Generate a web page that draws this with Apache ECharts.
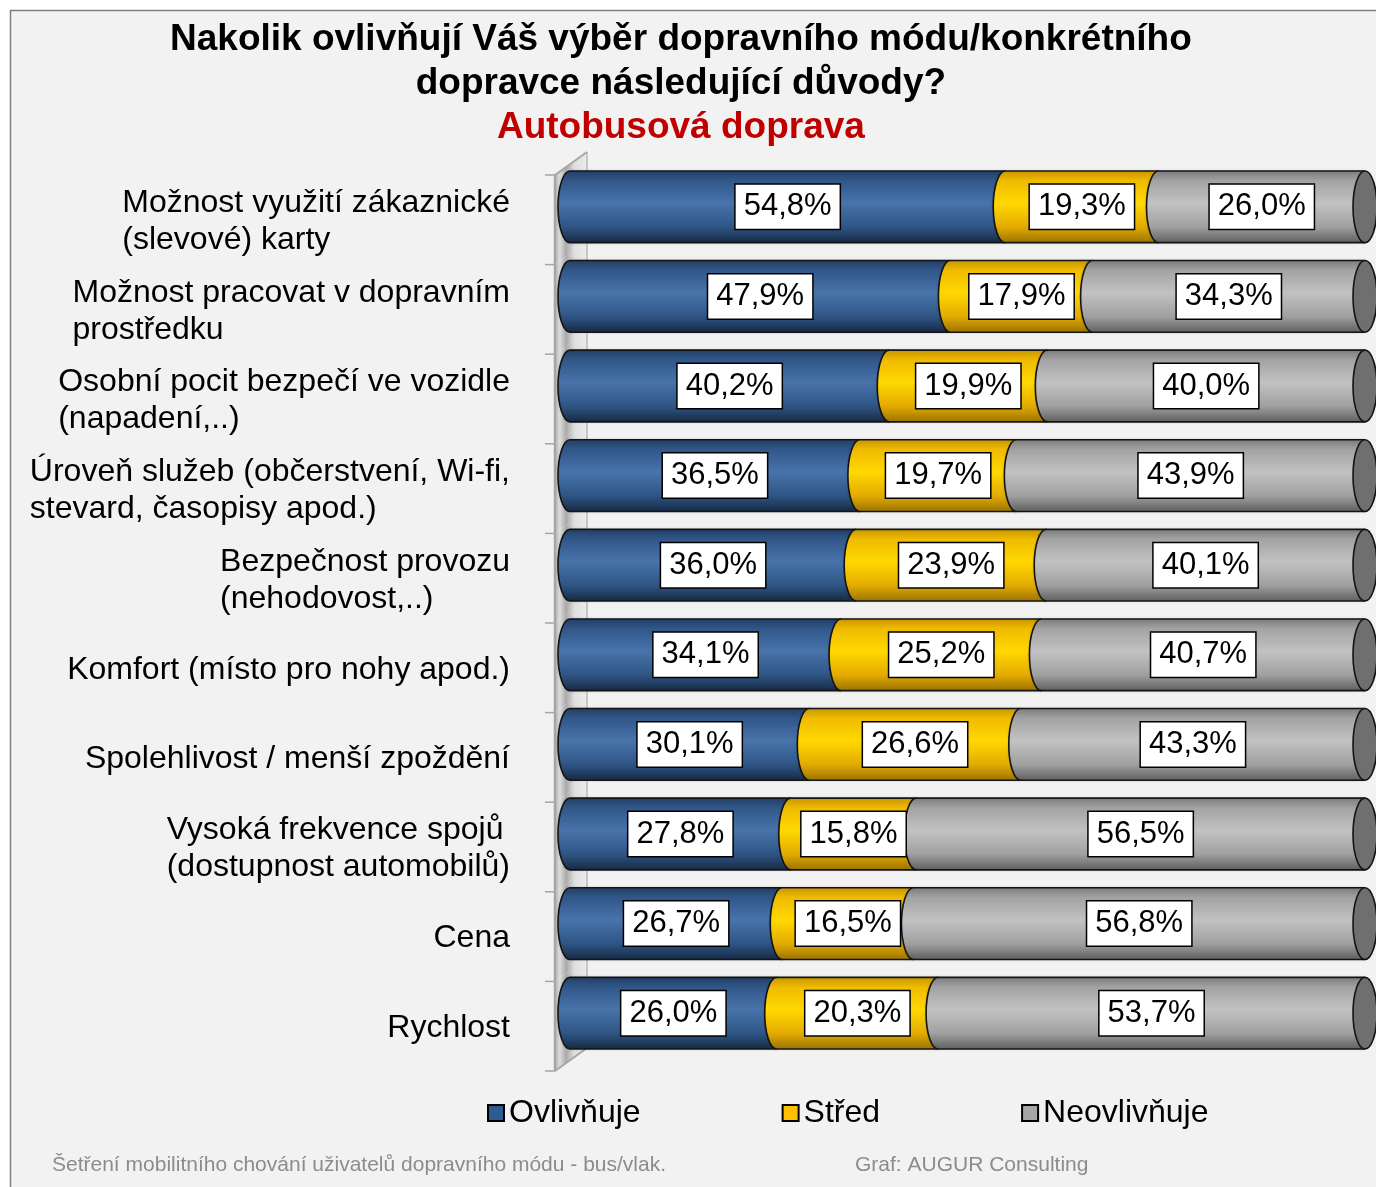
<!DOCTYPE html>
<html>
<head>
<meta charset="utf-8">
<title>Autobusová doprava</title>
<script src="https://cdn.jsdelivr.net/npm/echarts@6/dist/echarts.min.js"></script>
<style>
  html, body { margin: 0; padding: 0; background: #fff; }
  #chart { position: absolute; left: 0; top: 0; width: 1376px; height: 1187px; }
</style>
</head>
<body>
<div id="chart"></div>
<script>
const categories = [
  "Možnost využití zákaznické\n(slevové) karty",
  "Možnost pracovat v dopravním\nprostředku",
  "Osobní pocit bezpečí ve vozidle\n(napadení,..)",
  "Úroveň služeb (občerstvení, Wi-fi,\nstevard, časopisy apod.)",
  "Bezpečnost provozu\n(nehodovost,..)",
  "Komfort (místo pro nohy apod.)",
  "Spolehlivost / menší zpoždění",
  "Vysoká frekvence spojů\n(dostupnost automobilů)",
  "Cena",
  "Rychlost"
];
const ovlivnuje   = [54.8, 47.9, 40.2, 36.5, 36.0, 34.1, 30.1, 27.8, 26.7, 26.0];
const stred       = [19.3, 17.9, 19.9, 19.7, 23.9, 25.2, 26.6, 15.8, 16.5, 20.3];
const neovlivnuje = [26.0, 34.3, 40.0, 43.9, 40.1, 40.7, 43.3, 56.5, 56.8, 53.7];
const seriesNames = ["Ovlivňuje", "Střed", "Neovlivňuje"];

const FONT = '"Liberation Sans", Arial, sans-serif';
const valueLists = [ovlivnuje, stred, neovlivnuje];
const legendColors = ["#2f5a90", "#ffc000", "#a6a6a6"];
const gradients = [
  [["#223f66", 0], ["#31578a", 0.14], ["#4874ab", 0.45], ["#2f5585", 0.78], ["#172a45", 1]],
  [["#c99700", 0], ["#f0bb00", 0.14], ["#ffd800", 0.45], ["#e3ab00", 0.78], ["#9c7300", 1]],
  [["#7c7c7c", 0], ["#a3a3a3", 0.14], ["#c2c2c2", 0.45], ["#a0a0a0", 0.78], ["#606060", 1]]
];

// 100 % stacked, like the original spreadsheet chart
const rowTotals = categories.map((_, i) => ovlivnuje[i] + stred[i] + neovlivnuje[i]);
function stackData(k) {
  return categories.map((_, i) => {
    let start = 0;
    for (let j = 0; j < k; j++) start += valueLists[j][i];
    return [i, start / rowTotals[i] * 100, (start + valueLists[k][i]) / rowTotals[i] * 100, valueLists[k][i]];
  });
}

function fmt(v) {
  return v.toFixed(1).replace(".", ",") + "%";
}

function grad(k) {
  return new echarts.graphic.LinearGradient(0, 0, 0, 1,
    gradients[k].map(s => ({ offset: s[1], color: s[0] })));
}

function makeCylinder(k) {
  const isLast = k === valueLists.length - 1;
  return function (params, api) {
    const row = api.value(0);
    const p0 = api.coord([api.value(1), row]);
    const p1 = api.coord([api.value(2), row]);
    const band = api.size([0, 1])[1];
    const ry = band * 0.8 / 2;
    const rx = 12;
    const x0 = p0[0], x1 = p1[0], top = p0[1] - ry, bot = p0[1] + ry;
    const children = [
      {
        type: "path",
        shape: { pathData: `M${x1},${top} L${x0},${top} A${rx},${ry} 0 0 0 ${x0},${bot} L${x1},${bot} Z` },
        style: { fill: grad(k), shadowColor: "rgba(0,0,0,0.25)", shadowBlur: 3 }
      },
      {
        type: "path",
        shape: { pathData: `M${x1},${top} L${x0},${top} A${rx},${ry} 0 0 0 ${x0},${bot} L${x1},${bot}` },
        style: { fill: null, stroke: "#141414", lineWidth: 1.6 }
      }
    ];
    if (isLast) {
      children.push({
        type: "path",
        shape: { pathData: `M${x1},${top} A${rx},${ry} 0 0 1 ${x1},${bot} A${rx},${ry} 0 0 1 ${x1},${top} Z` },
        style: { fill: "#6f6f6f", stroke: "#141414", lineWidth: 1.6 }
      });
    }
    children.push({
      type: "text",
      z2: 100,
      style: {
        text: fmt(api.value(3)),
        x: (x0 + x1) / 2,
        y: p0[1],
        align: "center",
        verticalAlign: "middle",
        fill: "#000",
        font: "31px " + FONT,
        backgroundColor: "#fff",
        borderColor: "#000",
        borderWidth: 1.5,
        padding: [8, 8, 5, 8]
      }
    });
    return { type: "group", children: children };
  };
}

function renderWall(params, api) {
  const i = api.value(0);
  const c = api.coord([0, i]);
  const band = api.size([0, 1])[1];
  const t = c[1] - band / 2, b = c[1] + band / 2;
  const F = c[0] - 15, B = c[0] + 17, FD = 13, BD = -10;
  const wallFill = new echarts.graphic.LinearGradient(0, 0, 1, 0, [
    { offset: 0, color: "#b4b4b4" },
    { offset: 0.15, color: "#dcdcdc" },
    { offset: 0.35, color: "#a9a9a9" },
    { offset: 0.6, color: "#dedede" },
    { offset: 1, color: "#ececec" }
  ]);
  const line = "#a6a6a6";
  const children = [
    { type: "polygon", shape: { points: [[F, t + FD], [B, t + BD], [B, b + BD], [F, b + FD]] }, style: { fill: wallFill } },
    { type: "line", shape: { x1: F, y1: t + FD, x2: F, y2: b + FD }, style: { stroke: line, lineWidth: 2.5 } },
    { type: "line", shape: { x1: B, y1: t + BD, x2: B, y2: b + BD }, style: { stroke: "#b8b8b8", lineWidth: 1.5 } },
    { type: "line", shape: { x1: F - 10, y1: t + FD, x2: F, y2: t + FD }, style: { stroke: line, lineWidth: 1.5 } }
  ];
  if (i === 0) {
    children.push({ type: "line", shape: { x1: F, y1: t + FD, x2: B, y2: t + BD }, style: { stroke: line, lineWidth: 2 } });
  }
  if (i === categories.length - 1) {
    children.push({ type: "line", shape: { x1: F - 10, y1: b + FD, x2: F, y2: b + FD }, style: { stroke: line, lineWidth: 1.5 } });
    children.push({ type: "line", shape: { x1: F, y1: b + FD, x2: B, y2: b + BD }, style: { stroke: line, lineWidth: 2 } });
  }
  return { type: "group", children: children };
}

const chart = echarts.init(document.getElementById("chart"));

const series = [{
  type: "custom",
  name: "wall",
  silent: true,
  z: 1,
  data: categories.map((_, i) => [i, 0]),
  encode: { x: 1, y: 0 },
  renderItem: renderWall
}];
valueLists.forEach((_, k) => {
  series.push({
    type: "custom",
    name: seriesNames[k],
    data: stackData(k),
    encode: { x: [1, 2], y: 0 },
    itemStyle: { color: legendColors[k] },
    renderItem: makeCylinder(k)
  });
});

chart.setOption({
  backgroundColor: "#fff",
  animation: false,
  title: {
    left: 165,
    top: 13,
    text: "{a|Nakolik ovlivňují Váš výběr dopravního módu/konkrétního}\n{a|dopravce následující důvody?}\n{b|Autobusová doprava}",
    textStyle: {
      rich: {
        a: { align: "center", fontFamily: FONT, fontSize: 37, fontWeight: "bold", color: "#000", lineHeight: 44 },
        b: { align: "center", fontFamily: FONT, fontSize: 37, fontWeight: "bold", color: "#c00000", lineHeight: 44 }
      }
    }
  },
  legend: {
    data: seriesNames,
    left: 482,
    top: 1092,
    itemGap: 141,
    itemWidth: 16,
    itemHeight: 16,
    icon: "rect",
    itemStyle: { borderColor: "#000", borderWidth: 2 },
    textStyle: { fontFamily: FONT, fontSize: 32, color: "#000" }
  },
  grid: { left: 570, right: 11, top: 162, bottom: 129, outerBoundsMode: "none" },
  xAxis: { type: "value", min: 0, max: 100, show: false },
  yAxis: {
    type: "category",
    data: categories,
    inverse: true,
    axisLine: { show: false },
    axisTick: { show: false },
    splitLine: { show: false },
    axisLabel: {
      interval: 0,
      margin: 60,
      padding: [30, 0, 0, 0],
      formatter: v => v.split("\n").map(l => "{l|" + l + "}").join("\n"),
      rich: { l: { align: "left", fontFamily: FONT, fontSize: 32, lineHeight: 37, color: "#000" } }
    }
  },
  graphic: [
    {
      type: "rect", z: -10, silent: true,
      shape: { x: 10.5, y: 10.5, width: 1500, height: 1300 },
      style: { fill: "#f2f2f2", stroke: "#7f7f7f", lineWidth: 1.5 }
    },
    {
      type: "text", left: 52, top: 1155,
      style: { text: "Šetření mobilitního chování uživatelů dopravního módu - bus/vlak.", fill: "#8c8c8c", font: "21px " + FONT }
    },
    {
      type: "text", left: 855, top: 1155,
      style: { text: "Graf: AUGUR Consulting", fill: "#8c8c8c", font: "21px " + FONT }
    }
  ],
  series: series
});
</script>
</body>
</html>
